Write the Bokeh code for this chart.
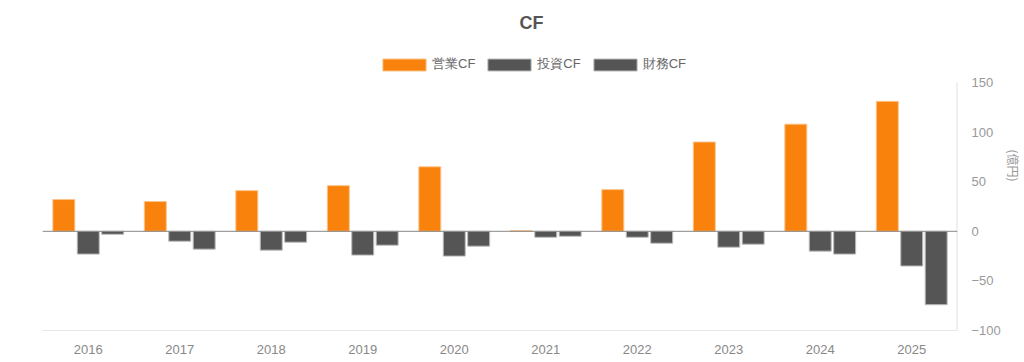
from bokeh.plotting import figure
from bokeh.models import (ColumnDataSource, FactorRange, Range1d, Legend,
                          LegendItem, Span, FixedTicker, Label)
from bokeh.transform import dodge
from bokeh.embed import file_html
from bokeh.resources import INLINE

years = ["2016", "2017", "2018", "2019", "2020", "2021", "2022", "2023", "2024", "2025"]
operating_cf = [32, 30, 41, 46, 65, 0.5, 42, 90, 108, 131]
investing_cf = [-23, -10, -19, -24, -25, -6, -6, -16, -20, -35]
financing_cf = [-3, -18, -11, -14, -15, -5, -12, -13, -23, -74]
series_names = ["営業CF", "投資CF", "財務CF"]
y_ticks = [-100, -50, 0, 50, 100, 150]

FONT = "Liberation Sans"
ORANGE = "#F8820B"
GRAY = "#555555"

src = ColumnDataSource(dict(year=years, op=operating_cf, inv=investing_cf, fin=financing_cf))

# frame spans the full height above the axis; room above 150 holds title and legend
y_top = y_ticks[-1] + 82 * (y_ticks[-1] - y_ticks[0]) / 248.0

p = figure(width=1024, height=356, x_range=FactorRange(*years, range_padding=0),
           y_range=Range1d(y_ticks[0], y_top), output_backend="svg", toolbar_location=None,
           y_axis_location="right", min_border_left=42, min_border_right=0,
           min_border_top=0, min_border_bottom=0)
p.outline_line_color = None
p.xgrid.grid_line_color = None
p.ygrid.grid_line_color = None

bw = 0.24
r1 = p.vbar(x=dodge("year", -0.267, range=p.x_range), top="op", width=bw, source=src,
            fill_color=ORANGE, line_color="#FBC38A", line_width=1)
r2 = p.vbar(x=dodge("year", 0.0, range=p.x_range), top="inv", width=bw, source=src,
            fill_color=GRAY, line_color="#BBBBBB", line_width=1)
r3 = p.vbar(x=dodge("year", 0.267, range=p.x_range), top="fin", width=bw, source=src,
            fill_color=GRAY, line_color="#BBBBBB", line_width=1)

p.add_layout(Span(location=0, dimension="width", line_color="#888888", line_width=1))

# right axis line only between -100 and 150
edge = ColumnDataSource(dict(x=[years[-1]], y0=[y_ticks[0]], y1=[y_ticks[-1]]))
p.segment(x0=dodge("x", 0.5, range=p.x_range), x1=dodge("x", 0.5, range=p.x_range),
          y0="y0", y1="y1", source=edge, line_color="#E0E0E0", line_width=2)

# x axis
xa = p.xaxis[0]
xa.axis_line_color = "#E6E6E6"
xa.major_tick_line_color = None
xa.minor_tick_line_color = None
xa.major_label_text_font = FONT
xa.major_label_text_font_size = "13px"
xa.major_label_text_color = "#888888"
xa.major_label_standoff = 8

# y axis (right)
ya = p.yaxis[0]
ya.ticker = FixedTicker(ticks=y_ticks)
ya.axis_line_color = None
ya.major_tick_line_color = None
ya.minor_tick_line_color = None
ya.major_label_text_font = FONT
ya.major_label_text_font_size = "13px"
ya.major_label_text_color = "#999999"
ya.major_label_text_align = "left"
ya.major_label_standoff = 8
ya.axis_label = "(億円)"
ya.axis_label_text_font = "Noto Sans CJK JP"
ya.axis_label_text_font_size = "12px"
ya.axis_label_text_font_style = "normal"
ya.axis_label_text_color = "#999999"
ya.axis_label_standoff = 1

legend = Legend(items=[LegendItem(label=series_names[0], renderers=[r1]),
                       LegendItem(label=series_names[1], renderers=[r2]),
                       LegendItem(label=series_names[2], renderers=[r3])],
                orientation="horizontal", location=(335, 257),
                glyph_width=54, glyph_height=15, label_text_font=FONT,
                label_text_font_size="13px", label_text_color="#666666",
                border_line_color=None, background_fill_alpha=0,
                spacing=7, padding=0, margin=0, label_standoff=1,
                label_height=15)
p.add_layout(legend, "center")

p.add_layout(Label(x=477, y=308, x_units="screen", y_units="screen", text="CF",
                   text_font=FONT, text_font_size="18px", text_font_style="bold",
                   text_color="#555555", text_baseline="middle", text_align="left"))

open("out.html", "w").write(file_html(p, INLINE))
